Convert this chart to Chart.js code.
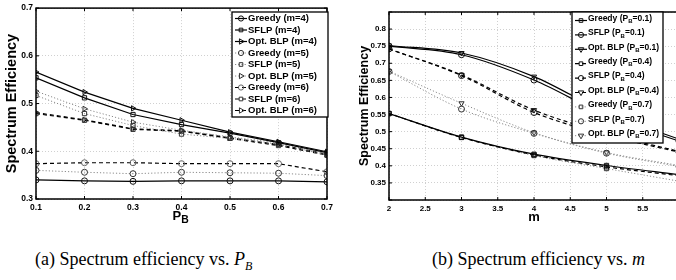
<!DOCTYPE html>
<html>
<head>
<meta charset="utf-8">
<script src="https://cdn.jsdelivr.net/npm/chart.js@4.4.1/dist/chart.umd.min.js"></script>
<style>
  html, body { margin: 0; padding: 0; background: #fff; width: 676px; height: 280px; overflow: hidden; }
  .wrap { position: absolute; top: 0; height: 228px; }
  #wrapA { left: 0; width: 340px; }
  #wrapB { left: 340px; width: 350px; }
  .cap { position: absolute; top: 249px; font-family: "Liberation Serif", "DejaVu Serif", serif; font-size: 18px; white-space: nowrap; color: #000; }
  .cap sub { font-size: 12px; }
</style>
</head>
<body>
<div class="wrap" id="wrapA"><canvas id="chartA"></canvas></div>
<div class="wrap" id="wrapB"><canvas id="chartB"></canvas></div>
<div class="cap" style="left:35px">(a) Spectrum efficiency vs. <i>P</i><sub><i>B</i></sub></div>
<div class="cap" style="left:432px">(b) Spectrum efficiency vs. <i>m</i></div>
<script>
// (a) spectrum efficiency vs P_B
const pbValues = [0.1, 0.2, 0.3, 0.4, 0.5, 0.6, 0.7];
const greedyM4 = [0.340, 0.338, 0.337, 0.338, 0.338, 0.338, 0.336];
const sflpM4   = [0.554, 0.512, 0.477, 0.456, 0.438, 0.418, 0.397];
const optM4    = [0.566, 0.524, 0.490, 0.465, 0.440, 0.420, 0.399];
const greedyM5 = [0.360, 0.356, 0.353, 0.356, 0.355, 0.354, 0.349];
const sflpM5   = [0.517, 0.479, 0.454, 0.436, 0.427, 0.415, 0.392];
const optM5    = [0.526, 0.489, 0.461, 0.444, 0.430, 0.418, 0.394];
const greedyM6 = [0.374, 0.376, 0.376, 0.374, 0.374, 0.374, 0.357];
const sflpM6   = [0.479, 0.465, 0.446, 0.442, 0.427, 0.412, 0.392];
const optM6    = [0.481, 0.466, 0.447, 0.443, 0.428, 0.414, 0.394];

// (b) spectrum efficiency vs m
const mValues  = [2, 3, 4, 5, 6];
const greedyP1 = [0.553, 0.484, 0.434, 0.401, 0.374];
const sflpP1   = [0.750, 0.725, 0.651, 0.547, 0.472];
const optP1    = [0.752, 0.730, 0.661, 0.555, 0.478];
const greedyP4 = [0.553, 0.483, 0.432, 0.397, 0.371];
const sflpP4   = [0.742, 0.664, 0.556, 0.490, 0.440];
const optP4    = [0.742, 0.666, 0.563, 0.495, 0.442];
const greedyP7 = [0.553, 0.483, 0.430, 0.392, 0.355];
const sflpP7   = [0.676, 0.566, 0.495, 0.437, 0.398];
const optP7    = [0.677, 0.583, 0.497, 0.439, 0.401];

Chart.defaults.font.family = "'Liberation Sans', Arial, sans-serif";
Chart.defaults.color = '#000';

const SOLID = { borderColor: '#000', borderWidth: 1.2, borderDash: [] };
const DOTTED = { borderColor: '#8a8a8a', borderWidth: 1, borderDash: [1.2, 2] };
const DASHED = { borderColor: '#000', borderWidth: 1.2, borderDash: [4, 3] };

function series(label, xs, ys, line, shape, rot, markColor) {
    return Object.assign({
        label: label,
        data: xs.map((x, i) => ({ x: x, y: ys[i] })),
        pointStyle: shape,
        pointRotation: rot || 0,
        pointRadius: 3,
        pointBorderWidth: 1,
        pointBorderColor: markColor || '#111',
        pointBackgroundColor: 'rgba(255,255,255,0)',
        fill: false,
        tension: 0
    }, line);
}

// little marker drawer, used in the legend
function marker(ctx, style, rot, x, y, r) {
    ctx.beginPath();
    if (style === 'circle') {
        ctx.arc(x, y, r, 0, Math.PI * 2);
    } else if (style === 'rect') {
        const s = r * 1.4;
        ctx.rect(x - s / 2, y - s / 2, s, s);
    } else {
        const a = (rot || 0) * Math.PI / 180;
        for (let k = 0; k < 3; k++) {
            const t = a - Math.PI / 2 + k * 2 * Math.PI / 3;
            const px = x + r * 1.2 * Math.cos(t), py = y + r * 1.2 * Math.sin(t);
            k ? ctx.lineTo(px, py) : ctx.moveTo(px, py);
        }
        ctx.closePath();
    }
    ctx.stroke();
}

function subText(ctx, text, x, y, size, subSize) {
    // "P_B" -> P with subscript B
    const parts = text.split('_');
    ctx.font = 'bold ' + size + "px 'Liberation Sans', Arial, sans-serif";
    ctx.fillText(parts[0], x, y);
    let cx = x + ctx.measureText(parts[0]).width;
    if (parts.length > 1) {
        const sub = parts[1].charAt(0), rest = parts[1].slice(1);
        ctx.font = 'bold ' + subSize + "px 'Liberation Sans', Arial, sans-serif";
        ctx.fillText(sub, cx, y + size * 0.35);
        cx += ctx.measureText(sub).width;
        ctx.font = 'bold ' + size + "px 'Liberation Sans', Arial, sans-serif";
        ctx.fillText(rest, cx, y);
    }
}

const decor = {
    id: 'decor',
    afterDraw(chart, args, o) {
        const ctx = chart.ctx, a = chart.chartArea, sx = chart.scales.x, sy = chart.scales.y;
        ctx.save();
        // box + inner ticks
        ctx.setLineDash([]);
        ctx.strokeStyle = '#000';
        ctx.lineWidth = 1;
        ctx.beginPath();
        sx.ticks.forEach(t => {
            const p = sx.getPixelForValue(t.value);
            ctx.moveTo(p, a.bottom); ctx.lineTo(p, a.bottom - 3);
            ctx.moveTo(p, a.top); ctx.lineTo(p, a.top + 3);
        });
        sy.ticks.forEach(t => {
            const p = sy.getPixelForValue(t.value);
            ctx.moveTo(a.left, p); ctx.lineTo(a.left + 3, p);
            ctx.moveTo(a.right, p); ctx.lineTo(a.right - 3, p);
        });
        ctx.stroke();
        ctx.lineWidth = 1.5;
        ctx.strokeRect(a.left, a.top, a.right - a.left, a.bottom - a.top);

        // legend box
        const L = o.legend;
        ctx.fillStyle = '#fff';
        ctx.fillRect(L.x, L.y, L.w, L.h);
        ctx.lineWidth = 1.3;
        ctx.strokeRect(L.x, L.y, L.w, L.h);
        chart.data.datasets.forEach((ds, i) => {
            const cy = L.y + L.first + i * L.row;
            const ly = cy + L.shift;
            ctx.save();
            ctx.strokeStyle = ds.borderColor;
            ctx.lineWidth = ds.borderWidth;
            ctx.setLineDash(ds.borderDash);
            ctx.beginPath();
            ctx.moveTo(L.x + 3, ly); ctx.lineTo(L.x + 15, ly);
            ctx.stroke();
            ctx.setLineDash([]);
            ctx.strokeStyle = ds.pointBorderColor;
            ctx.lineWidth = 1;
            marker(ctx, ds.pointStyle, ds.pointRotation, L.x + 9, ly, 2.6);
            ctx.restore();
            ctx.fillStyle = '#000';
            ctx.textBaseline = 'middle';
            ctx.textAlign = 'left';
            subText(ctx, ds.label, L.x + 16, cy, L.font, L.subFont);
        });

        // x axis title
        ctx.fillStyle = '#000';
        ctx.textBaseline = 'middle';
        ctx.font = 'bold ' + o.xTitle.size + "px 'Liberation Sans', Arial, sans-serif";
        const w = ctx.measureText(o.xTitle.text.replace('_', '')).width;
        subText(ctx, o.xTitle.text, (a.left + a.right) / 2 - w / 2, o.xTitle.y, o.xTitle.size, o.xTitle.size * 0.8);
        ctx.restore();
    }
};

function axisOpts(cfg) {
    return {
        x: {
            type: 'linear', min: cfg.xmin, max: cfg.xmax,
            ticks: { stepSize: cfg.xstep, padding: 4, font: { size: cfg.tick, weight: 'bold' }, maxRotation: 0,
                     autoSkip: false, callback: v => String(+v.toFixed(2)) },
            grid: { color: '#c4c4c4', lineWidth: 0.8, drawTicks: false },
            border: { display: false, dash: [1, 2] },
            afterFit: s => { s.height = cfg.xh; }
        },
        y: {
            min: cfg.ymin, max: cfg.ymax,
            ticks: { stepSize: cfg.ystep, padding: 3, font: { size: cfg.tick, weight: 'bold' },
                     callback: v => (cfg.hide.some(h => Math.abs(h - v) < 1e-6) ? '' : String(+v.toFixed(2))) },
            grid: { color: '#c4c4c4', lineWidth: 0.8, drawTicks: false },
            border: { display: false, dash: [1, 2] },
            title: { display: true, text: 'Spectrum Efficiency', font: { size: cfg.ytitle, weight: 'bold' },
                     padding: { top: cfg.ytpad, bottom: 0 } },
            afterFit: s => { s.width = cfg.yw; }
        }
    };
}

new Chart(document.getElementById('chartA'), {
    type: 'line',
    data: {
        datasets: [
            series('Greedy (m=4)', pbValues, greedyM4, SOLID, 'circle'),
            series('SFLP (m=4)', pbValues, sflpM4, SOLID, 'rect'),
            series('Opt. BLP (m=4)', pbValues, optM4, SOLID, 'triangle', 90),
            series('Greedy (m=5)', pbValues, greedyM5, DOTTED, 'circle', 0, '#333'),
            series('SFLP (m=5)', pbValues, sflpM5, DOTTED, 'rect', 0, '#333'),
            series('Opt. BLP (m=5)', pbValues, optM5, DOTTED, 'triangle', 90, '#333'),
            series('Greedy (m=6)', pbValues, greedyM6, DASHED, 'circle', 0, '#666'),
            series('SFLP (m=6)', pbValues, sflpM6, DASHED, 'rect', 0, '#333'),
            series('Opt. BLP (m=6)', pbValues, optM6, DASHED, 'triangle', 90, '#333')
        ]
    },
    options: {
        responsive: true,
        maintainAspectRatio: false,
        animation: false,
        layout: { padding: { top: 7, right: 13, bottom: 0, left: 0 }, autoPadding: false },
        plugins: {
            legend: { display: false },
            tooltip: { enabled: false },
            decor: {
                legend: { x: 232, y: 12, w: 96, h: 105, first: 6.5, row: 11.5, shift: 0, font: 9.5, subFont: 7 },
                xTitle: { text: 'P_B', size: 13, y: 216 }
            }
        },
        scales: axisOpts({ xmin: 0.1, xmax: 0.7, xstep: 0.1, ymin: 0.3, ymax: 0.7, ystep: 0.1,
                           tick: 8.5, xh: 29, yw: 36, ytitle: 14.5, ytpad: 3, hide: [] })
    },
    plugins: [decor]
});

new Chart(document.getElementById('chartB'), {
    type: 'line',
    data: {
        datasets: [
            series('Greedy (P_B=0.1)', mValues, greedyP1, SOLID, 'rect'),
            series('SFLP (P_B=0.1)', mValues, sflpP1, SOLID, 'circle'),
            series('Opt. BLP (P_B=0.1)', mValues, optP1, SOLID, 'triangle', 180),
            series('Greedy (P_B=0.4)', mValues, greedyP4, DASHED, 'rect'),
            series('SFLP (P_B=0.4)', mValues, sflpP4, DASHED, 'circle'),
            series('Opt. BLP (P_B=0.4)', mValues, optP4, DASHED, 'triangle', 180),
            series('Greedy (P_B=0.7)', mValues, greedyP7, DOTTED, 'rect', 0, '#333'),
            series('SFLP (P_B=0.7)', mValues, sflpP7, DOTTED, 'circle', 0, '#333'),
            series('Opt. BLP (P_B=0.7)', mValues, optP7, DOTTED, 'triangle', 180, '#333')
        ].map(d => Object.assign(d, { cubicInterpolationMode: 'monotone' }))
    },
    options: {
        responsive: true,
        maintainAspectRatio: false,
        animation: false,
        layout: { padding: { top: 12, right: 11, bottom: 0, left: 0 }, autoPadding: false },
        plugins: {
            legend: { display: false },
            tooltip: { enabled: false },
            decor: {
                legend: { x: 232, y: 12, w: 91, h: 131, first: 6.5, row: 14.4, shift: 2, font: 8.5, subFont: 6 },
                xTitle: { text: 'm', size: 13, y: 217 }
            }
        },
        scales: axisOpts({ xmin: 2, xmax: 6, xstep: 0.5, ymin: 0.3, ymax: 0.85, ystep: 0.05,
                           tick: 8, xh: 28, yw: 49, ytitle: 12.5, ytpad: 17, hide: [0.3, 0.85] })
    },
    plugins: [decor]
});
</script>
</body>
</html>
